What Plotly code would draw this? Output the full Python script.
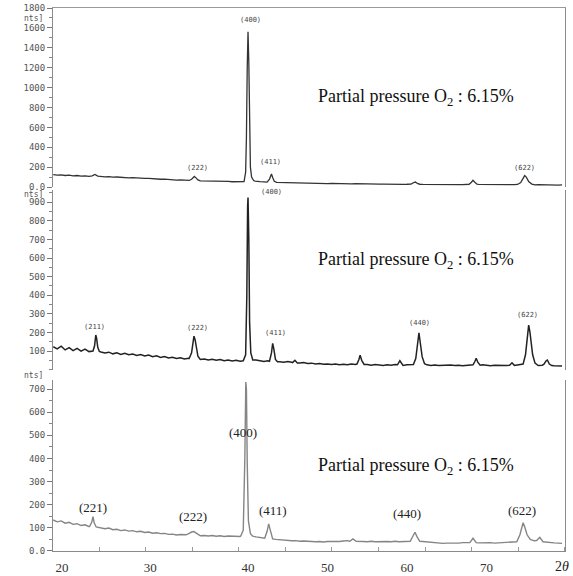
import plotly.graph_objects as go

# ---------------- data ----------------
TWO_THETA_BG = [
    15.5, 16.0, 16.5, 17.0, 17.5, 18.0, 18.5, 19.0, 19.5, 20.0,
    20.5, 21.0, 21.5, 22.0, 22.5, 23.0, 23.5, 24.0, 24.5, 25.0,
    25.5, 26.0, 26.5, 27.0, 27.5, 28.0, 28.5, 29.0, 29.5, 30.0,
    30.5, 31.0, 31.5, 32.0, 32.5, 33.0, 33.5, 34.0, 34.5, 35.0,
    35.5, 36.0, 36.5, 37.0, 37.5, 38.0, 38.5, 39.0, 39.5, 40.0,
    40.5, 41.0, 41.5, 42.0, 42.5, 43.0, 43.5, 44.0, 44.5, 45.0,
    45.5, 46.0, 46.5, 47.0, 47.5, 48.0, 48.5, 49.0, 49.5, 50.0,
    50.5, 51.0, 51.5, 52.0, 52.5, 53.0, 53.5, 54.0, 54.5, 55.0,
    55.5, 56.0, 56.5, 57.0, 57.5, 58.0, 58.5, 59.0, 59.5, 60.0,
    60.5, 61.0, 61.5, 62.0, 62.5, 63.0, 63.5, 64.0, 64.5, 65.0,
    65.5, 66.0, 66.5, 67.0, 67.5, 68.0, 68.5, 69.0, 69.5, 70.0,
    70.5, 71.0, 71.5, 72.0, 72.5, 73.0, 73.5, 74.0, 74.5, 75.0,
    75.5, 76.0, 76.5, 77.0, 77.5, 78.0, 78.5, 79.0, 79.5,
]

# top panel background counts
P1_BG = [
    124, 119, 122, 116, 119, 113, 116, 110, 113, 107,
    112, 118, 106, 103, 105, 99, 101, 96, 98, 93,
    94, 89, 91, 86, 87, 82, 83, 78, 79, 74,
    75, 70, 71, 66, 68, 65, 66, 64, 62, 60,
    61, 57, 58, 55, 56, 53, 54, 51, 52, 50,
    58, 60, 55, 52, 50, 48, 46, 45, 43, 42,
    43, 40, 41, 38, 39, 37, 38, 36, 37, 35,
    36, 34, 35, 33, 34, 32, 35, 33, 31, 32,
    30, 31, 29, 30, 28, 29, 27, 28, 27, 28,
    29, 32, 30, 27, 26, 25, 26, 24, 25, 24,
    25, 23, 24, 25, 27, 29, 30, 26, 25, 24,
    23, 24, 23, 24, 23, 24, 25, 26, 27, 26,
    24, 23, 24, 22, 23, 21, 22, 20, 21,
]
P1_PEAK_X = [
    [20.4, 20.75, 21.1],
    [32.6, 32.9, 33.1, 33.25, 33.45, 33.7, 34.0],
    [39.5, 39.7, 39.8, 39.9, 40.0, 40.1, 40.2, 40.3, 40.45, 40.7, 40.9],
    [42.4, 42.7, 42.85, 42.95, 43.1, 43.3, 43.6],
    [60.5, 60.85, 61.05, 61.3, 61.6],
    [67.8, 68.1, 68.3, 68.5, 68.8],
    [73.9, 74.3, 74.6, 74.8, 75.0, 75.3, 75.7, 76.1],
]
P1_PEAK_Y = [
    [112, 126, 110],
    [66, 78, 98, 106, 92, 72, 62],
    [55, 150, 500, 1200, 1560, 1250, 600, 200, 100, 65, 60],
    [50, 80, 128, 131, 95, 58, 46],
    [30, 45, 50, 36, 28],
    [28, 48, 68, 50, 28],
    [26, 45, 95, 115, 100, 55, 30, 22],
]

# middle panel background counts
P2_BG = [
    123, 112, 126, 106, 118, 102, 114, 99, 110, 97,
    106, 100, 95, 90, 94, 85, 91, 82, 88, 80,
    84, 76, 81, 73, 78, 70, 74, 66, 71, 63,
    67, 60, 64, 57, 61, 56, 60, 53, 57, 52,
    56, 50, 54, 48, 52, 46, 50, 45, 48, 46,
    55, 52, 47, 44, 48, 42, 46, 43, 40, 44,
    40, 42, 36, 38, 33, 35, 31, 33, 29, 31,
    28, 30, 26, 29, 27, 30, 28, 27, 25, 28,
    24, 27, 25, 23, 26, 24, 27, 25, 23, 26,
    25, 28, 26, 24, 26, 23, 25, 22, 24, 23,
    25, 22, 24, 21, 23, 25, 22, 24, 26, 23,
    21, 23, 22, 24, 22, 21, 23, 25, 27, 29,
    26, 24, 22, 24, 26, 23, 21, 20, 19,
]
P2_PEAK_X = [
    [20.5, 20.7, 20.85, 20.95, 21.1, 21.3],
    [32.6, 32.9, 33.05, 33.2, 33.35, 33.5, 33.7, 34.0],
    [39.4, 39.7, 39.85, 39.95, 40.0, 40.1, 40.2, 40.35, 40.6],
    [42.7, 42.95, 43.1, 43.25, 43.45, 43.7],
    [45.6, 45.9, 46.2],
    [53.7, 53.95, 54.1, 54.3, 54.6],
    [58.8, 59.1, 59.4],
    [60.8, 61.1, 61.35, 61.5, 61.65, 61.9, 62.2],
    [68.3, 68.55, 68.7, 68.9, 69.2],
    [72.9, 73.2, 73.5],
    [74.6, 74.9, 75.15, 75.3, 75.45, 75.6, 75.8, 76.1, 76.4],
    [77.2, 77.5, 77.65, 77.9, 78.2],
]
P2_PEAK_Y = [
    [100, 128, 186, 170, 120, 98],
    [60, 90, 140, 180, 160, 110, 72, 55],
    [48, 80, 400, 880, 925, 700, 250, 90, 52],
    [45, 90, 141, 110, 55, 42],
    [38, 50, 36],
    [30, 55, 78, 50, 28],
    [26, 48, 27],
    [28, 60, 150, 198, 150, 70, 32],
    [26, 45, 61, 40, 24],
    [24, 37, 23],
    [30, 80, 200, 239, 205, 140, 80, 35, 25],
    [28, 48, 52, 30, 22],
]

# bottom panel background counts
P3_BG = [
    134, 126, 130, 120, 124, 115, 118, 110, 113, 105,
    108, 103, 100, 96, 99, 92, 94, 88, 91, 86,
    88, 83, 85, 80, 82, 77, 79, 75, 76, 72,
    73, 69, 71, 68, 70, 67, 69, 66, 67, 65,
    67, 64, 66, 63, 65, 64, 66, 63, 65, 62,
    64, 61, 58, 56, 54, 52, 50, 48, 47, 46,
    44, 45, 42, 43, 41, 42, 40, 41, 39, 41,
    40, 42, 41, 43, 45, 44, 42, 43, 41, 40,
    42, 40, 41, 39, 41, 40, 42, 40, 41, 42,
    44, 48, 44, 41, 39, 37, 35, 34, 33, 34,
    33, 35, 34, 36, 35, 37, 36, 35, 36, 35,
    36, 34, 35, 36, 38, 40, 42, 45, 48, 50,
    48, 44, 42, 40, 38, 36, 35, 34, 33,
]
P3_PEAK_X = [
    [20.1, 20.35, 20.5, 20.65, 20.9],
    [32.2, 32.6, 32.9, 33.2, 33.5, 33.9],
    [39.1, 39.4, 39.6, 39.72, 39.8, 39.9, 40.05, 40.3, 40.6],
    [42.1, 42.4, 42.6, 42.8, 43.1],
    [52.8, 53.2, 53.6],
    [60.4, 60.75, 61.0, 61.25, 61.6],
    [67.9, 68.3, 68.7],
    [73.8, 74.2, 74.45, 74.6, 74.8, 75.1, 75.5],
    [76.3, 76.7, 77.1],
]
P3_PEAK_Y = [
    [108, 125, 148, 122, 104],
    [70, 76, 82, 84, 78, 70],
    [66, 90, 400, 730, 700, 380, 130, 75, 64],
    [55, 85, 117, 90, 52],
    [42, 52, 42],
    [42, 65, 81, 62, 42],
    [36, 55, 36],
    [40, 70, 110, 122, 105, 70, 50],
    [45, 59, 40],
]

X_TICK_TEXT = ["20", "30", "40", "50", "60", "70"]
X_TICK_POS = [16.6, 27.7, 40.0, 50.0, 60.0, 70.0]

P1_TICKS = [0, 200, 400, 600, 800, 1000, 1200, 1400, 1600, 1800]
P1_TICK_TEXT = ["0.0", "200", "400", "600", "800", "1000", "1200", "1400", "1600", "1800"]
P2_TICKS = [100, 200, 300, 400, 500, 600, 700, 800, 900]
P2_TICK_TEXT = ["100", "200", "300", "400", "500", "600", "700", "800", "900"]
P3_TICKS = [0, 100, 200, 300, 400, 500, 600, 700]
P3_TICK_TEXT = ["0.0", "100", "200", "300", "400", "500", "600", "700"]

P1_LABELS = ["(222)", "(400)", "(411)", "(622)"]
P1_LABEL_X = [33.6, 40.25, 42.8, 74.8]
P1_LABEL_Y = [191, 1680, 252, 191]
P2_LABELS = ["(211)", "(222)", "(400)", "(411)", "(440)", "(622)"]
P2_LABEL_X = [20.75, 33.6, 43.0, 43.4, 61.6, 75.2]
P2_LABEL_Y = [229, 223, 955, 196, 250, 293]
P3_LABELS = ["(221)", "(222)", "(400)", "(411)", "(440)", "(622)"]
P3_LABEL_X = [20.5, 33.1, 39.4, 43.1, 60.0, 74.5]
P3_LABEL_Y = [190, 147, 510, 177, 164, 177]

CAPTION = "Partial pressure O<sub>2</sub> : 6.15%"
CAPTION_X = 61.1
CAPTION_Y = [896, 588, 367]

X_RANGE = [15.47, 79.87]


def build(bg_y, peak_x, peak_y):
    windows = [(min(px), max(px)) for px in peak_x]
    pts = [(x, y) for x, y in zip(TWO_THETA_BG, bg_y)
           if not any(lo <= x <= hi for lo, hi in windows)]
    for px, py in zip(peak_x, peak_y):
        pts += list(zip(px, py))
    pts.sort()
    return [p[0] for p in pts], [p[1] for p in pts]


x1, y1 = build(P1_BG, P1_PEAK_X, P1_PEAK_Y)
x2, y2 = build(P2_BG, P2_PEAK_X, P2_PEAK_Y)
x3, y3 = build(P3_BG, P3_PEAK_X, P3_PEAK_Y)

fig = go.Figure()
fig.add_trace(go.Scatter(x=x1, y=y1, xaxis="x", yaxis="y", mode="lines",
                         line=dict(color="#333333", width=1.3)))
fig.add_trace(go.Scatter(x=x2, y=y2, xaxis="x2", yaxis="y2", mode="lines",
                         line=dict(color="#222222", width=1.5)))
fig.add_trace(go.Scatter(x=x3, y=y3, xaxis="x3", yaxis="y3", mode="lines",
                         line=dict(color="#858585", width=1.4)))

MONO = dict(family="DejaVu Sans Mono", size=9, color="#555555")
MONO_SMALL = dict(family="DejaVu Sans Mono", size=8, color="#555555")
SERIF = "Liberation Serif"

yaxis_common = dict(showline=True, mirror=True, linecolor="#8a8a8a", linewidth=1,
                    ticks="outside", ticklen=5, tickcolor="#777777",
                    tickfont=MONO, showgrid=False, zeroline=False,
                    tickmode="array", fixedrange=True, automargin=False)

fig.update_layout(
    template="none",
    width=573, height=576,
    margin=dict(l=53, r=8, t=8, b=25),
    paper_bgcolor="white", plot_bgcolor="white",
    showlegend=False, hovermode=False,
    xaxis=dict(domain=[0, 1], anchor="y", side="top", range=X_RANGE,
               showline=True, linecolor="#9a9a9a", showticklabels=False,
               ticks="", showgrid=False, zeroline=False, automargin=False),
    xaxis2=dict(domain=[0, 1], anchor="y2", range=X_RANGE, showline=False,
                showticklabels=False, ticks="", showgrid=False, zeroline=False,
                automargin=False),
    xaxis3=dict(domain=[0, 1], anchor="y3", range=X_RANGE, showline=True,
                linecolor="#8a8a8a", tickmode="array", tickvals=X_TICK_POS,
                ticktext=X_TICK_TEXT, ticks="", ticklabelstandoff=4,
                tickfont=dict(family=SERIF, size=13, color="#333333"),
                showgrid=False, zeroline=False, automargin=False,
                minor=dict(tickmode="linear", tick0=15.4, dtick=5.86,
                           ticks="inside", ticklen=4, tickcolor="#999999")),
    yaxis=dict(domain=[0.6703, 1.0], anchor="x", range=[0, 1800],
               tickvals=P1_TICKS, ticktext=P1_TICK_TEXT,
               minor=dict(dtick=100, ticks="outside", ticklen=3, tickcolor="#888888"),
               **yaxis_common),
    yaxis2=dict(domain=[0.3333, 0.6648], anchor="x2", range=[-2, 966],
                tickvals=P2_TICKS, ticktext=P2_TICK_TEXT,
                minor=dict(dtick=50, ticks="outside", ticklen=3, tickcolor="#888888"),
                **yaxis_common),
    yaxis3=dict(domain=[0, 0.3149], anchor="x3", range=[0, 739],
                tickvals=P3_TICKS, ticktext=P3_TICK_TEXT,
                minor=dict(dtick=50, ticks="outside", ticklen=3, tickcolor="#888888"),
                **yaxis_common),
)

ann = []
for t, x, y in zip(P1_LABELS, P1_LABEL_X, P1_LABEL_Y):
    ann.append(dict(text=t, x=x, y=y, xref="x", yref="y", showarrow=False,
                    font=dict(family="DejaVu Sans Mono", size=7, color="#444444")))
for t, x, y in zip(P2_LABELS, P2_LABEL_X, P2_LABEL_Y):
    ann.append(dict(text=t, x=x, y=y, xref="x2", yref="y2", showarrow=False,
                    font=dict(family="DejaVu Sans Mono", size=7, color="#444444")))
for t, x, y in zip(P3_LABELS, P3_LABEL_X, P3_LABEL_Y):
    ann.append(dict(text=t, x=x, y=y, xref="x3", yref="y3", showarrow=False,
                    font=dict(family=SERIF, size=13, color="#222222")))
for i, y in enumerate(CAPTION_Y):
    sfx = "" if i == 0 else str(i + 1)
    ann.append(dict(text=CAPTION, x=CAPTION_X, y=y, xref="x" + sfx, yref="y" + sfx,
                    showarrow=False, font=dict(family=SERIF, size=18, color="#111111")))
for yy in [0.981, 0.6565, 0.3241]:
    ann.append(dict(text="nts]", x=-0.015, y=yy, xref="paper", yref="paper",
                    xanchor="right", yanchor="middle", showarrow=False,
                    font=MONO_SMALL))
ann.append(dict(text="2<i>θ</i>", x=0.994, y=-0.029, xref="paper", yref="paper",
                xanchor="center", yanchor="middle", showarrow=False,
                font=dict(family=SERIF, size=14, color="#222222")))
fig.update_layout(annotations=ann)

fig.write_html("out.html")
